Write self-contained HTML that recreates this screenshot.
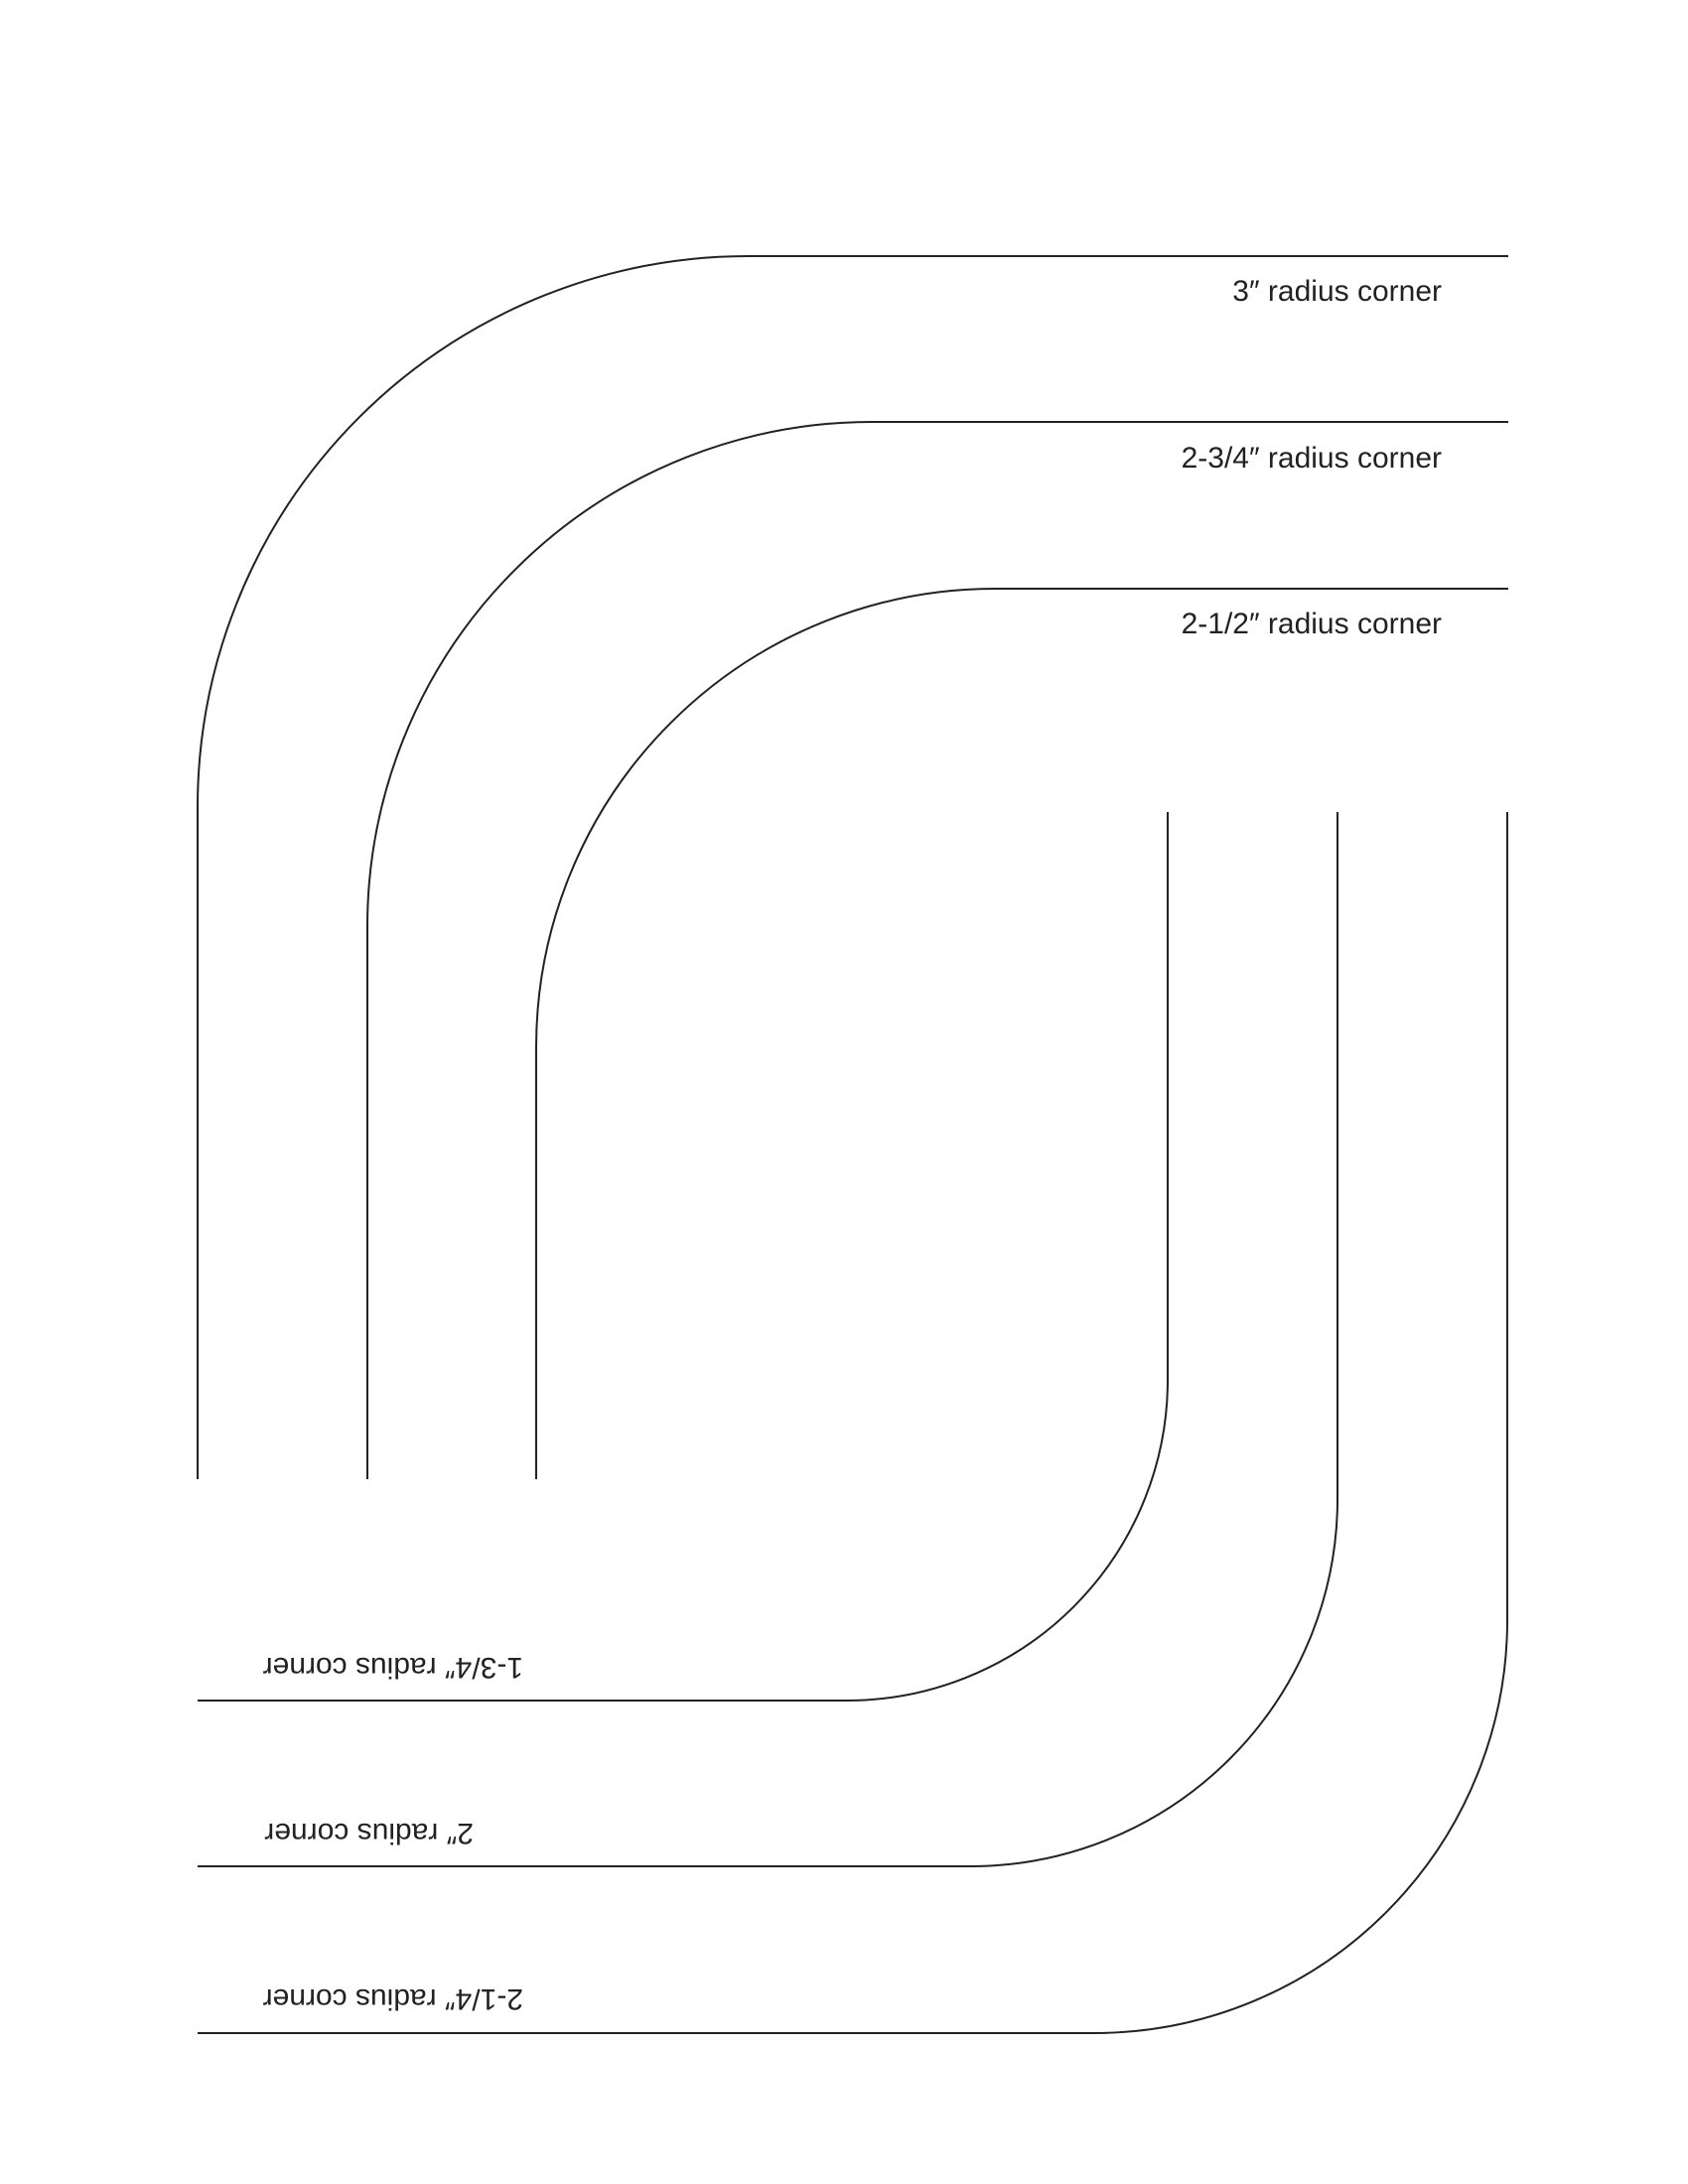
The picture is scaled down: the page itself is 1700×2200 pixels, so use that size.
<!DOCTYPE html>
<html><head><meta charset="utf-8"><style>html,body{margin:0;padding:0;background:#fff}svg{display:block}</style></head>
<body>
<svg width="1700" height="2200" viewBox="0 0 1700 2200" xmlns="http://www.w3.org/2000/svg">
<g fill="none" stroke="#222" stroke-width="2">
<path d="M199 1490 V813 A555 555 0 0 1 754 258 H1519"/>
<path d="M370 1490 V933 A508 508 0 0 1 878 425 H1519"/>
<path d="M540 1490 V1055 A462 462 0 0 1 1002 593 H1519"/>
<path d="M1176 818 V1390 A323 323 0 0 1 853 1713 H199"/>
<path d="M1347 818 V1510 A370 370 0 0 1 977 1880 H199"/>
<path d="M1518 818 V1632 A416 416 0 0 1 1102 2048 H199"/>
</g>
<g font-family="Liberation Sans, sans-serif" font-size="30" fill="#222">
<text x="1452" y="303" text-anchor="end">3″ radius corner</text>
<text x="1452" y="471" text-anchor="end">2-3/4″ radius corner</text>
<text x="1452" y="638" text-anchor="end">2-1/2″ radius corner</text>
<text x="527" y="1670" transform="rotate(180 527 1670)">1-3/4″ radius corner</text>
<text x="477" y="1837" transform="rotate(180 477 1837)">2″ radius corner</text>
<text x="527" y="2004" transform="rotate(180 527 2004)">2-1/4″ radius corner</text>
</g>
</svg>
</body></html>
